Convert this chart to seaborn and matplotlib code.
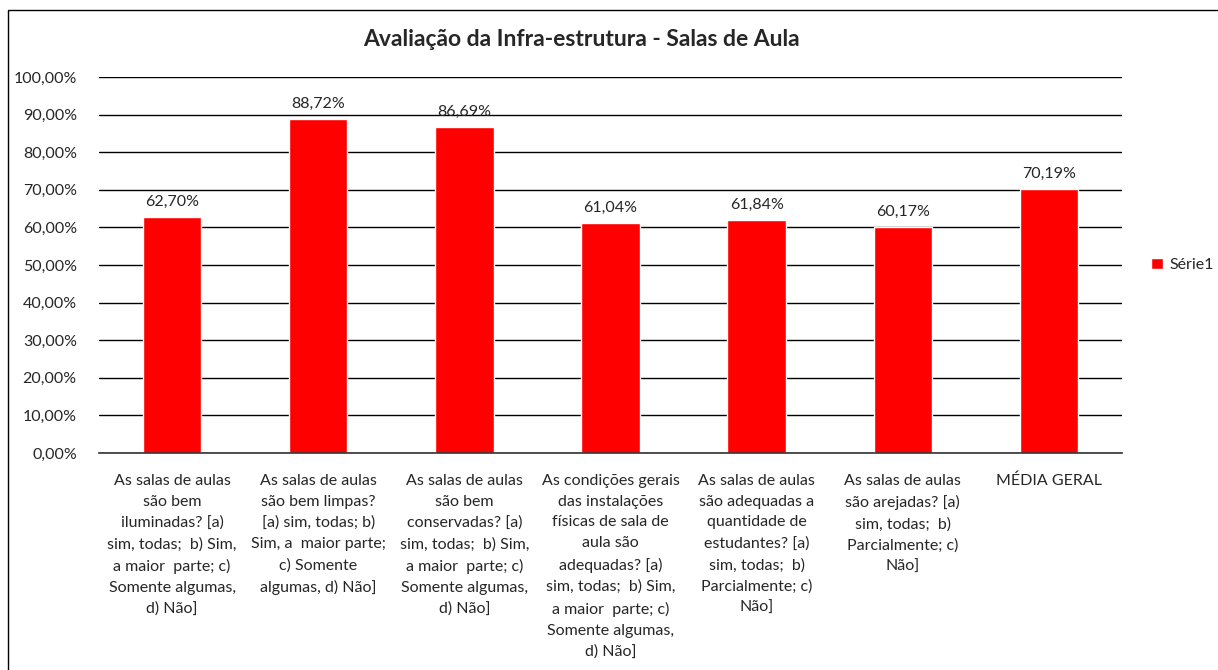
import matplotlib
matplotlib.use("Agg")
import matplotlib.pyplot as plt
import matplotlib.patches as mpatches
import seaborn as sns
import pandas as pd

# ---- Data ----
categories = [
    "As salas de aulas\nsão bem\niluminadas? [a)\nsim, todas;  b) Sim,\na maior  parte; c)\nSomente algumas,\nd) Não]",
    "As salas de aulas\nsão bem limpas?\n[a) sim, todas; b)\nSim, a  maior parte;\nc) Somente\nalgumas, d) Não]",
    "As salas de aulas\nsão bem\nconservadas? [a)\nsim, todas;  b) Sim,\na maior  parte; c)\nSomente algumas,\nd) Não]",
    "As condições gerais\ndas instalações\nfísicas de sala de\naula são\nadequadas? [a)\nsim, todas;  b) Sim,\na maior  parte; c)\nSomente algumas,\nd) Não]",
    "As salas de aulas\nsão adequadas a\nquantidade de\nestudantes? [a)\nsim, todas;  b)\nParcialmente; c)\nNão]",
    "As salas de aulas\nsão arejadas? [a)\nsim, todas;  b)\nParcialmente; c)\nNão]",
    "MÉDIA GERAL",
]
values = [62.70, 88.72, 86.69, 61.04, 61.84, 60.17, 70.19]
series_name = "Série1"

df = pd.DataFrame({"cat": range(len(values)), "val": values, "serie": series_name})

sns.set_style("white")
plt.rcParams["font.family"] = ["Lato", "DejaVu Sans"]

fig = plt.figure(figsize=(12.18, 6.7), dpi=100)
W, H = 1218, 670
left, right, top, bottom = 99, 1122, 77, 453
ax = fig.add_axes([left / W, 1 - bottom / H, (right - left) / W, (bottom - top) / H])

sns.barplot(data=df, x="cat", y="val", hue="serie", palette=["#ff0000"],
            width=0.40, ax=ax, saturation=1, legend=True)

ax.set_ylim(0, 100)
ax.set_xlim(-0.5, len(values) - 0.5)
ax.set_yticks(range(0, 101, 10))
ax.set_yticklabels([f"{v},00%" for v in range(0, 101, 10)], fontsize=11.5)
ax.yaxis.grid(True, color="black", linewidth=1)
ax.set_axisbelow(True)
ax.set_xticks(range(len(values)))
ax.set_xticklabels(categories, fontsize=11.5, linespacing=1.62, va="top")
ax.tick_params(axis="x", length=0, pad=15)
ax.tick_params(axis="y", length=0, pad=16)
ax.set_xlabel("")
ax.set_ylabel("")
for s in ["left", "right", "top"]:
    ax.spines[s].set_visible(False)
ax.spines["bottom"].set_color("#333333")
ax.spines["bottom"].set_linewidth(1.2)

for i, v in enumerate(values):
    ax.text(i, v + 2.2, f"{v:.2f}%".replace(".", ","), ha="center", va="bottom", fontsize=11.5)

ax.legend(loc="center left", bbox_to_anchor=(1 + (1151 - right) / (right - left), 0.5),
          frameon=False, borderaxespad=0, borderpad=0,
          fontsize=11.5, handlelength=0.75, handleheight=0.75, handletextpad=0.4)

fig.text(581 / W, 1 - 40 / H, "Avaliação da Infra-estrutura - Salas de Aula",
         ha="center", va="center", fontsize=16.5, fontweight="bold")

fig.patches.append(mpatches.Rectangle((8 / W, -0.1), 1.2, 1 - 10 / H + 0.1,
                                      transform=fig.transFigure, fill=False,
                                      edgecolor="black", linewidth=1))

fig.savefig("out.png", dpi=100)
